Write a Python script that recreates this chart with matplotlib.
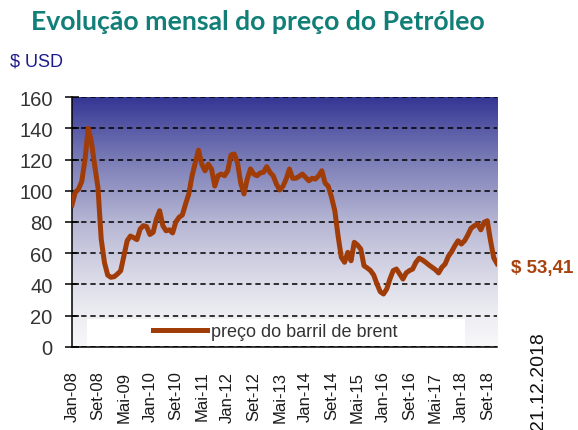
import numpy as np
import matplotlib
matplotlib.use('Agg')
import matplotlib.pyplot as plt
from matplotlib.colors import LinearSegmentedColormap
from matplotlib.patches import Rectangle

plt.rcParams['font.family'] = ['Liberation Sans', 'DejaVu Sans']

# monthly brent price, Jan-08 .. Dez-18 (USD/barril)
brent = [91, 99, 101, 106, 120, 140, 131, 116, 102, 69, 54, 46,        # 2008
         44.6, 45, 46.7, 48.8, 58.4, 68, 71, 70, 68.7, 75.5, 77.7, 77,  # 2009
         72, 73.4, 81.8, 87.2, 77.6, 74.4, 75, 73, 80, 83, 84.5, 91.5,  # 2010
         98, 109.6, 118, 126, 117, 112.8, 117, 113.9, 103, 109.6, 110.7, 109.6,  # 2011
         112.8, 122.9, 123.5, 118, 105, 98, 107.5, 114, 110.7, 109.6, 111.4, 111.8,  # 2012
         115.4, 111.8, 109.6, 104.3, 100.5, 102.8, 107.5, 113.9, 108, 108, 109.2, 110.7,  # 2013
         108.6, 106.4, 108, 107.5, 109.6, 112.8, 105, 102.8, 95.8, 87.2, 71.2, 57.4,  # 2014
         54.2, 60.6, 55.2, 67, 65.3, 62.7, 52, 50.6, 48.9, 46, 40.3, 35.4,  # 2015
         33.9, 37.1, 43.5, 48.9, 49.9, 46.7, 43.5, 47.4, 48.9, 49.9, 54.2, 56.8,  # 2016
         55.7, 54.2, 52.5, 51, 49.5, 47.4, 51, 53.1, 58, 61, 64.8, 68,  # 2017
         65.9, 68, 71.7, 76, 77.6, 78.7, 75, 79.8, 80.8, 68, 57, 53.41]  # 2018

tick_labels = ['Jan-08', 'Set-08', 'Mai-09', 'Jan-10', 'Set-10', 'Mai-11',
               'Jan-12', 'Set-12', 'Mai-13', 'Jan-14', 'Set-14', 'Mai-15',
               'Jan-16', 'Set-16', 'Mai-17', 'Jan-18', 'Set-18']
y_ticks = [0, 20, 40, 60, 80, 100, 120, 140, 160]
last_label = '$ 53,41'

months = np.arange(len(brent))

fig = plt.figure(figsize=(5.78, 4.31), dpi=100)
ax = fig.add_axes([0.1246, 0.1926, 0.7353, 0.58])

# background gradient, light at the bottom and dark blue at the top
cmap = LinearSegmentedColormap.from_list('bg', [
    (0.0, '#F8F8FA'), (0.125, '#EEEEF3'), (0.25, '#DEDEEA'),
    (0.5, '#B6B6D4'), (0.75, '#7A7CB6'), (0.875, '#585AA6'),
    (1.0, '#343694')])
grad = np.linspace(0, 1, 256).reshape(-1, 1)
ax.imshow(grad, cmap=cmap, origin='lower', aspect='auto',
          extent=[0, len(brent) - 1, 0, 160], zorder=0)

# white box behind the legend
ax.add_patch(Rectangle((0.035, 0.0), 0.89, 0.11, transform=ax.transAxes,
                       facecolor='white', edgecolor='none', zorder=0.5))

ax.plot(months, brent, color='#A03C08', lw=3.6, solid_joinstyle='round',
        label='preço do barril de brent', zorder=3)

ax.set_xlim(0, len(brent) - 1)
ax.set_ylim(0, 160)
ax.set_yticks(y_ticks)
ax.set_xticks(months[::8])
ax.set_xticklabels(tick_labels, rotation=90, fontsize=12, color='#1a1a1a')
ax.tick_params(axis='x', length=0, pad=17)
ax.tick_params(axis='y', direction='inout', length=10, width=1.1, pad=9,
               labelsize=14.5, labelcolor='#333333')

ax.yaxis.grid(True, color='black', linestyle=(0, (3.5, 2.5)), lw=1.1, zorder=1)
for s in ['top', 'right']:
    ax.spines[s].set_visible(False)
for s in ['left', 'bottom']:
    ax.spines[s].set_linewidth(1.1)

leg = ax.legend(loc='center left', bbox_to_anchor=(0.19, 0.06), frameon=False,
                borderpad=0, borderaxespad=0, handlelength=3.0,
                handletextpad=0.2, fontsize=13)
for t in leg.get_texts():
    t.set_color('#333333')

ax.annotate(last_label, xy=(months[-1], brent[-1]), xytext=(10, -3),
            textcoords='offset points', ha='left', va='center',
            fontsize=13.5, fontweight='bold', color='#A8420E',
            annotation_clip=False)

fig.text(0.447, 0.948, 'Evolução mensal do preço do Petróleo', ha='center',
         va='center', fontsize=19.2, fontweight='bold', color='#117F78',
         family=['Lato', 'DejaVu Sans'])
fig.text(0.017, 0.856, '$ USD', ha='left', va='center', fontsize=13,
         color='#1C1C8C')
fig.text(0.9325, 0.228, '21.12.2018', ha='center', va='top', rotation=90,
         fontsize=14, color='#111111')

fig.savefig('out.png', dpi=100)
